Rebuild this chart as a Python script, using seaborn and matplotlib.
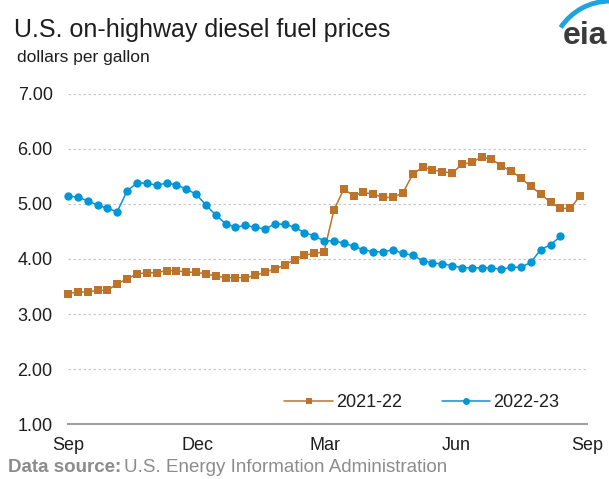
import numpy as np
import pandas as pd
import matplotlib
matplotlib.use("Agg")
import matplotlib.pyplot as plt
from matplotlib.patches import Arc
from matplotlib.lines import Line2D
import seaborn as sns

# weekly prices (dollars per gallon), week 0 = start of Sep
prices_2122 = [3.37, 3.40, 3.40, 3.43, 3.43, 3.55, 3.64, 3.73, 3.75, 3.75,
               3.79, 3.79, 3.76, 3.76, 3.73, 3.69, 3.66, 3.66, 3.66, 3.70,
               3.76, 3.82, 3.89, 3.99, 4.07, 4.10, 4.13, 4.89, 5.27, 5.15,
               5.21, 5.18, 5.12, 5.12, 5.20, 5.54, 5.67, 5.62, 5.59, 5.56,
               5.72, 5.76, 5.85, 5.82, 5.69, 5.60, 5.47, 5.32, 5.18, 5.03,
               4.92, 4.92, 5.15]
prices_2223 = [5.15, 5.12, 5.06, 4.98, 4.92, 4.86, 5.24, 5.38, 5.38, 5.34,
               5.38, 5.35, 5.27, 5.18, 4.98, 4.80, 4.64, 4.58, 4.61, 4.58,
               4.54, 4.64, 4.63, 4.58, 4.48, 4.42, 4.33, 4.33, 4.29, 4.23,
               4.17, 4.13, 4.13, 4.17, 4.10, 4.07, 3.97, 3.93, 3.91, 3.88,
               3.84, 3.84, 3.84, 3.84, 3.81, 3.85, 3.85, 3.94, 4.17, 4.26,
               4.41]
seasons = ["2021-22", "2022-23"]
month_labels = ["Sep", "Dec", "Mar", "Jun", "Sep"]
month_days = [0, 91, 181, 273, 365]
y_ticks = [1, 2, 3, 4, 5, 6, 7]

df = pd.concat([
    pd.DataFrame({"week": np.arange(len(prices_2122)), "price": prices_2122, "season": seasons[0]}),
    pd.DataFrame({"week": np.arange(len(prices_2223)), "price": prices_2223, "season": seasons[1]}),
])

orange = "#BD732A"
blue = "#0096D7"
txt = "#1E1E1E"
axis_end = 52.7  # weeks spanned by the Sep-Sep axis

sns.set_style("white")
plt.rcParams["font.family"] = ["Liberation Sans", "DejaVu Sans"]

fig = plt.figure(figsize=(6.09, 4.79), dpi=100)
ax = fig.add_axes([0.1117, 0.1148, 0.8522, 0.689])

sns.lineplot(data=df, x="week", y="price", hue="season", style="season",
             palette={seasons[0]: orange, seasons[1]: blue},
             markers={seasons[0]: "s", seasons[1]: "o"}, dashes=False,
             markersize=6, markeredgewidth=0, linewidth=1.1, ax=ax,
             legend=False)
for ln in ax.lines:
    ln.set_clip_on(False)

ax.set_xlim(0, axis_end)
ax.set_ylim(1, 7)
ax.set_xticks([d / 365 * axis_end for d in month_days])
ax.set_xticklabels(month_labels)
ax.set_yticks(y_ticks)
ax.set_yticklabels([f"{v:.2f}" for v in y_ticks])
ax.set_xlabel("")
ax.set_ylabel("")

for v in y_ticks[1:]:
    ax.axhline(v, color="#C8C8C8", lw=0.9, ls=(0, (2, 2)), zorder=0)

for s in ["top", "right", "left"]:
    ax.spines[s].set_visible(False)
ax.spines["bottom"].set_color("#A0A0A0")
ax.spines["bottom"].set_linewidth(1.5)
ax.tick_params(axis="x", length=5, width=1, color="#A0A0A0", labelsize=13,
               labelcolor=txt, pad=4)
ax.tick_params(axis="y", length=0, labelsize=13, labelcolor=txt, pad=11)

handles = [Line2D([], [], color=orange, marker="s", markersize=4.5, lw=1.1,
                  markeredgewidth=0),
           Line2D([], [], color=blue, marker="o", markersize=5, lw=1.1,
                  markeredgewidth=0)]
ax.legend(handles=handles, labels=seasons, loc="center right", ncol=2,
          frameon=False, fontsize=13, handlelength=2.7, handletextpad=0.15,
          columnspacing=2.2, borderpad=0, borderaxespad=0,
          bbox_to_anchor=(0.946, 0.064), labelcolor=txt)

fig.text(0.023, 0.937, "U.S. on-highway diesel fuel prices", fontsize=18,
         color=txt, va="center")
fig.text(0.028, 0.879, "dollars per gallon", fontsize=12.5, color=txt,
         va="center")

# source line: bold label then the agency name right after it
src = fig.text(0.013, 0.025, "Data source:", fontsize=13.5, color="#8C8C8C",
               fontweight="bold", va="center")
fig.canvas.draw()
bb = src.get_window_extent().transformed(fig.transFigure.inverted())
fig.text(bb.x1 + 0.004, 0.025, "U.S. Energy Information Administration",
         fontsize=13.5, color="#8C8C8C", va="center")

# eia logo
fig.text(0.997, 0.925, "eia", fontsize=23, color="#3A3A3A", ha="right",
         va="center", fontweight="bold")
fig.patches.append(Arc((1.0016, 0.8747), 0.194, 0.246, theta1=90, theta2=140,
                       transform=fig.transFigure, color="#1FA3E0", lw=3.5))

fig.savefig("out.png", dpi=100)
